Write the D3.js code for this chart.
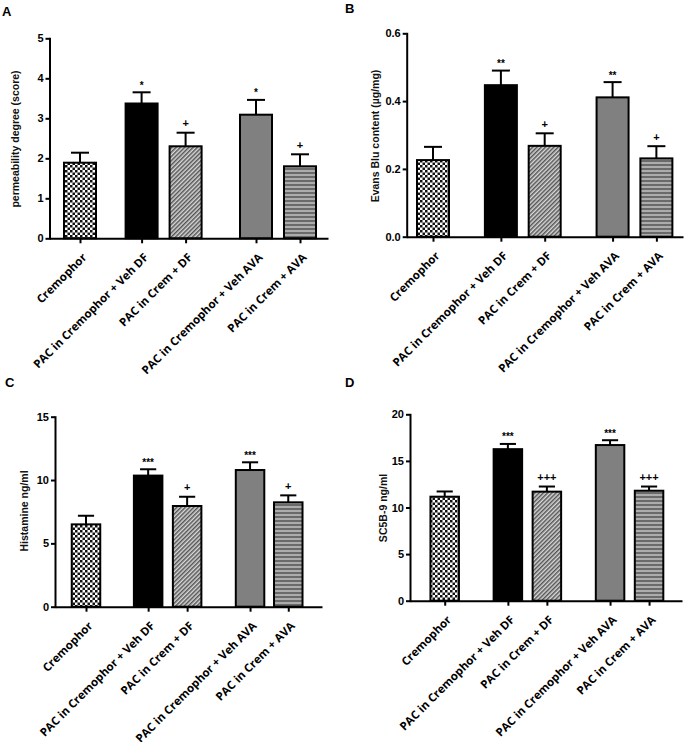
<!DOCTYPE html>
<html>
<head>
<meta charset="utf-8">
<script src="https://cdn.jsdelivr.net/npm/d3@7"></script>
<style>
  html, body { margin: 0; padding: 0; background: #fff; }
  svg { display: block; }
</style>
</head>
<body>
<svg id="chart" width="685" height="742"></svg>
<script>
// ---------------- DATA ----------------
const categories = [
  "Cremophor",
  "PAC in Cremophor + Veh DF",
  "PAC in Crem + DF",
  "PAC in Cremophor + Veh AVA",
  "PAC in Crem + AVA"
];
const fills = ["checker", "black", "diag", "gray", "hstripe"];

const permeabilityMean = [1.89, 3.37, 2.30, 3.09, 1.80];
const permeabilityErr  = [2.14, 3.65, 2.64, 3.46, 2.10];
const permeabilitySig  = ["", "*", "+", "*", "+"];
const permeabilityTicks = [0, 1, 2, 3, 4, 5];

const evansMean = [0.226, 0.447, 0.268, 0.411, 0.231];
const evansErr  = [0.265, 0.490, 0.305, 0.456, 0.267];
const evansSig  = ["", "**", "+", "**", "+"];
const evansTicks = [0, 0.2, 0.4, 0.6];

const histamineMean = [6.50, 10.35, 7.95, 10.79, 8.24];
const histamineErr  = [7.18, 10.85, 8.68, 11.40, 8.79];
const histamineSig  = ["", "***", "+", "***", "+"];
const histamineTicks = [0, 5, 10, 15];

const sc5bMean = [11.16, 16.26, 11.70, 16.70, 11.80];
const sc5bErr  = [11.72, 16.82, 12.25, 17.22, 12.25];
const sc5bSig  = ["", "***", "+++", "***", "+++"];
const sc5bTicks = [0, 5, 10, 15, 20];

// ---------------- LAYOUT ----------------
const panels = [
  { letter: "A", lx: 2, ly: 16, title: "permeability degree (score)", tx: 15, ty: 139,
    mean: permeabilityMean, err: permeabilityErr, sig: permeabilitySig, ticks: permeabilityTicks, fmt: d3.format("d"),
    ax: 49.5, xEnd: 328, yBase: 238.3, yTop: 38.3, c0: 80, sw: 44, slots: [0, 1.4, 2.4, 4.0, 5.0], barW: 34 },
  { letter: "B", lx: 345, ly: 13, title: "Evans Blu content (\u00b5g/mg)", tx: 375, ty: 136,
    mean: evansMean, err: evansErr, sig: evansSig, ticks: evansTicks, fmt: d3.format(".1f"),
    ax: 406.7, xEnd: 683, yBase: 236.7, yTop: 33.3, c0: 433, sw: 43.8, slots: [0, 1.55, 2.55, 4.1, 5.1], barW: 34 },
  { letter: "C", lx: 5, ly: 387, title: "Histamine ng/ml", tx: 24, ty: 511,
    mean: histamineMean, err: histamineErr, sig: histamineSig, ticks: histamineTicks, fmt: d3.format("d"),
    ax: 55, xEnd: 322, yBase: 606.7, yTop: 416.7, c0: 86, sw: 38.6, slots: [0, 1.61, 2.62, 4.25, 5.24], barW: 30.5 },
  { letter: "D", lx: 345, ly: 387, title: "SC5B-9 ng/ml", tx: 383, ty: 508,
    mean: sc5bMean, err: sc5bErr, sig: sc5bSig, ticks: sc5bTicks, fmt: d3.format("d"),
    ax: 410, xEnd: 682, yBase: 600.7, yTop: 414.3, c0: 444.7, sw: 39, slots: [0, 1.62, 2.62, 4.24, 5.24], barW: 30.5 }
];

const svg = d3.select("#chart");
svg.append("rect").attr("width", 685).attr("height", 742).attr("fill", "#fff");

// ---------------- PATTERNS ----------------
const defs = svg.append("defs");
const chk = defs.append("pattern").attr("id", "checker").attr("patternUnits", "userSpaceOnUse")
  .attr("width", 5).attr("height", 5);
chk.append("rect").attr("width", 5).attr("height", 5).attr("fill", "#fff");
chk.append("rect").attr("width", 2.5).attr("height", 2.5).attr("fill", "#111");
chk.append("rect").attr("x", 2.5).attr("y", 2.5).attr("width", 2.5).attr("height", 2.5).attr("fill", "#111");

const diag = defs.append("pattern").attr("id", "diag").attr("patternUnits", "userSpaceOnUse")
  .attr("width", 3).attr("height", 3).attr("patternTransform", "rotate(45)");
diag.append("rect").attr("width", 3).attr("height", 3).attr("fill", "#d8d8d8");
diag.append("rect").attr("width", 1.5).attr("height", 3).attr("fill", "#555");

const hs = defs.append("pattern").attr("id", "hstripe").attr("patternUnits", "userSpaceOnUse")
  .attr("width", 4).attr("height", 4);
hs.append("rect").attr("width", 4).attr("height", 4).attr("fill", "#acacac");
hs.append("rect").attr("width", 4).attr("height", 2).attr("fill", "#6a6a6a");

function fillOf(k) {
  if (k === "black") return "#000";
  if (k === "gray") return "#808080";
  return `url(#${k})`;
}

// ---------------- DRAW ----------------
panels.forEach(p => {
  const g = svg.append("g");
  const y = d3.scaleLinear().domain([p.ticks[0], p.ticks[p.ticks.length - 1]]).range([p.yBase, p.yTop]);
  const x = d3.scaleLinear()
    .domain([(p.ax - p.c0) / p.sw, (p.xEnd - p.c0) / p.sw])
    .range([p.ax, p.xEnd]);

  const data = categories.map((c, i) => ({ c, i, m: p.mean[i], e: p.err[i], s: p.sig[i], f: fills[i], slot: p.slots[i] }));
  const bw = p.barW - 2;

  // error bars
  const capW = p.barW * 0.53;
  g.selectAll(".eb").data(data).join("line")
    .attr("x1", d => x(d.slot)).attr("x2", d => x(d.slot))
    .attr("y1", d => y(d.m)).attr("y2", d => y(d.e))
    .attr("stroke", "#000").attr("stroke-width", 2);
  g.selectAll(".cap").data(data).join("line")
    .attr("x1", d => x(d.slot) - capW / 2).attr("x2", d => x(d.slot) + capW / 2)
    .attr("y1", d => y(d.e)).attr("y2", d => y(d.e))
    .attr("stroke", "#000").attr("stroke-width", 2);

  // bars
  g.selectAll(".bar").data(data).join("rect")
    .attr("x", d => x(d.slot) - bw / 2)
    .attr("width", bw)
    .attr("y", d => y(d.m))
    .attr("height", d => y(0) - y(d.m))
    .attr("fill", d => fillOf(d.f))
    .attr("stroke", "#000").attr("stroke-width", 2);

  // significance marks
  g.selectAll(".sig").data(data.filter(d => d.s)).join("text")
    .attr("x", d => x(d.slot))
    .attr("y", d => {
      const center = y(d.e) - 9;
      return d.s[0] === "*" ? center + 0.55 * 10 : center + 0.33 * 11;
    })
    .attr("text-anchor", "middle")
    .attr("font-family", "Liberation Sans, Arial, sans-serif")
    .attr("font-weight", "bold")
    .attr("font-size", d => d.s[0] === "*" ? 10 : 11)
    .attr("fill", "#000")
    .text(d => d.s);

  // y axis
  const ya = g.append("g").attr("transform", `translate(${p.ax},0)`)
    .call(d3.axisLeft(y).tickValues(p.ticks).tickFormat(p.fmt).tickSize(4).tickSizeOuter(0).tickPadding(2));
  ya.select(".domain").attr("stroke-width", 2).attr("stroke-linecap", "square");
  ya.selectAll(".tick line").attr("stroke-width", 2);
  ya.selectAll(".tick text").attr("font-family", "Liberation Sans, Arial, sans-serif")
    .attr("font-weight", "bold").attr("font-size", 11).attr("fill", "#000");

  // x axis
  const xa = g.append("g").attr("transform", `translate(0,${p.yBase})`)
    .call(d3.axisBottom(x).tickValues(p.slots).tickFormat((d, i) => categories[i]).tickSize(5).tickSizeOuter(0));
  xa.select(".domain").attr("stroke-width", 2);
  xa.selectAll(".tick line").attr("stroke-width", 2);
  xa.selectAll(".tick text")
    .attr("x", 0).attr("y", 0).attr("dy", "0.35em")
    .attr("text-anchor", "end")
    .attr("transform", "translate(4,17) rotate(-45)")
    .attr("font-family", "Open Sans, sans-serif")
    .attr("font-weight", "bold").attr("font-size", 11.5).attr("fill", "#000");

  // y title
  g.append("text")
    .attr("transform", `translate(${p.tx},${p.ty}) rotate(-90)`)
    .attr("text-anchor", "middle").attr("dy", "0.35em")
    .attr("font-family", "Liberation Sans, Arial, sans-serif")
    .attr("font-weight", "bold").attr("font-size", 10.5).attr("fill", "#111")
    .text(p.title);

  // panel letter
  g.append("text")
    .attr("x", p.lx).attr("y", p.ly)
    .attr("font-family", "Liberation Sans, Arial, sans-serif")
    .attr("font-weight", "bold").attr("font-size", 13).attr("fill", "#000")
    .text(p.letter);
});
</script>
</body>
</html>
